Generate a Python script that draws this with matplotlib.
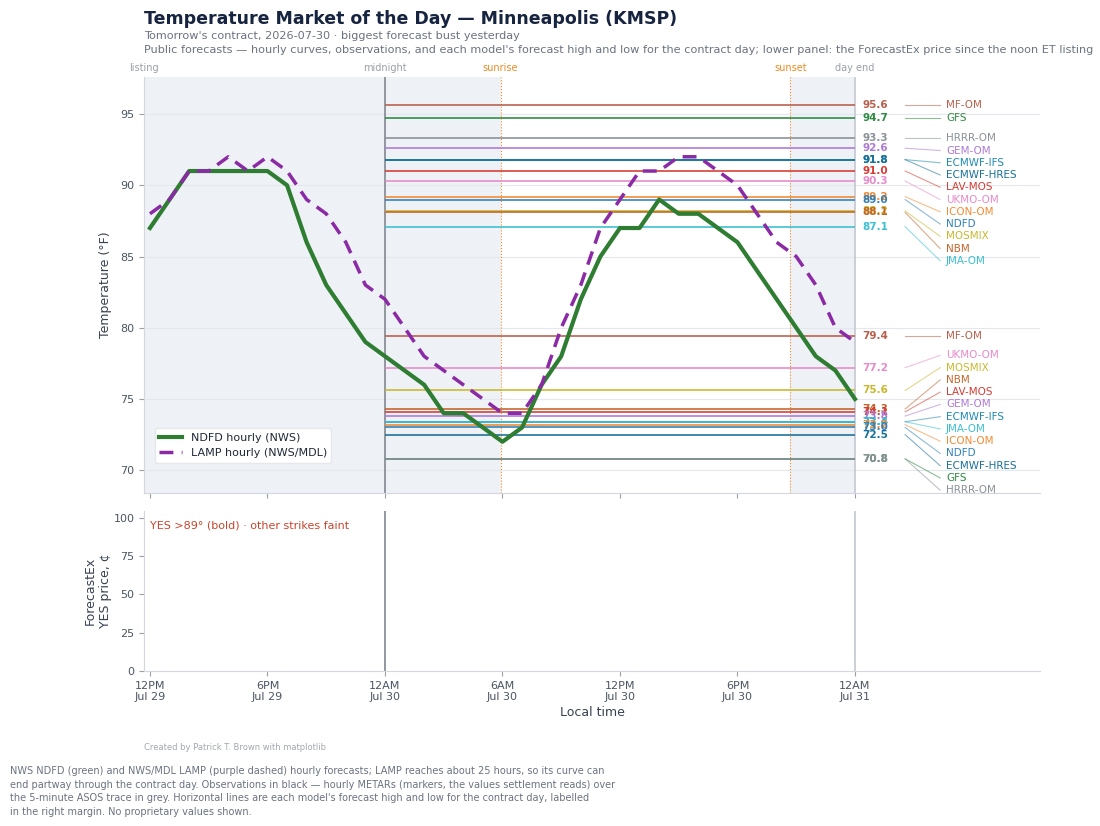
import numpy as np
import matplotlib.pyplot as plt
import matplotlib.transforms as mtransforms

# ---------- data (x = hours since 12PM Jul 29, local time) ----------
hours = np.arange(0, 37)
ndfd_hourly = [87, 89, 91, 91, 91, 91, 91, 90, 86, 83, 81, 79, 78, 77, 76, 74, 74, 73, 72,
               73, 76, 78, 82, 85, 87, 87, 89, 88, 88, 87, 86, 84, 82, 80, 78, 77, 75]
lamp_hourly = [88, 89, 91, 91, 92, 91, 92, 91, 89, 88, 86, 83, 82, 80, 78, 77, 76, 75, 74,
               74, 76, 80, 83, 87, 89, 91, 91, 92, 92, 91, 90, 88, 86, 85, 83, 80, 79]

models = ["MF-OM", "GFS", "HRRR-OM", "GEM-OM", "ECMWF-IFS", "ECMWF-HRES", "LAV-MOS",
          "UKMO-OM", "ICON-OM", "NDFD", "MOSMIX", "NBM", "JMA-OM"]
model_highs = [95.6, 94.7, 93.3, 92.6, 91.8, 91.8, 91.0, 90.3, 89.2, 89.0, 88.2, 88.1, 87.1]
model_lows = [79.4, 70.8, 70.8, 73.8, 73.4, 72.5, 74.1, 77.2, 73.2, 73.0, 75.6, 74.3, 73.4]
model_colors = ["#b9604c", "#2f8a44", "#8b9099", "#ae7ad6", "#1f8ab2", "#1a7199", "#d63c34",
                "#e68bc9", "#f28a32", "#3182b8", "#c8b92e", "#c4662b", "#3bbfd2"]

tick_hours = [0, 6, 12, 18, 24, 30, 36]
tick_labels = ["12PM\nJul 29", "6PM\nJul 29", "12AM\nJul 30", "6AM\nJul 30",
               "12PM\nJul 30", "6PM\nJul 30", "12AM\nJul 31"]

day_start, day_end = 12, 36
sunrise, sunset = 17.9, 32.7
x_left, x_right = -0.3, 45.45

# ---------- styling ----------
NAVY = "#16243f"
GREY_TXT = "#6b7280"
TICK_TXT = "#4b5563"
SPINE = "#d4d7dd"
NIGHT = "#eef1f6"
SUN = "#f08a24"

fig = plt.figure(figsize=(11, 8.26), dpi=100)
ax = fig.add_axes([0.131, 0.4031, 0.8145, 0.5037])
axp = fig.add_axes([0.131, 0.1877, 0.8145, 0.1937])

for a in (ax, axp):
    a.set_xlim(x_left, x_right)
    for s in ("top", "right"):
        a.spines[s].set_visible(False)
    for s in ("left", "bottom"):
        a.spines[s].set_color(SPINE)
    a.tick_params(colors="#9aa0a8", labelcolor=TICK_TXT, labelsize=8)
    a.set_xticks(tick_hours)

# ---------- top panel ----------
ax.set_ylim(68.4, 97.6)
ax.set_yticks([70, 75, 80, 85, 90, 95])
ax.set_xticklabels([])
ax.grid(axis="y", color="#e4e7ec", lw=0.8)
ax.set_axisbelow(True)
ax.axvspan(x_left, sunrise, color=NIGHT, lw=0, zorder=0)
ax.axvspan(sunset, day_end, color=NIGHT, lw=0, zorder=0)
ax.axvline(day_start, color="#8a8f98", lw=1.3, zorder=1)
ax.axvline(day_end, color="#c9ccd3", lw=1.3, zorder=1)
ax.axvline(sunrise, color=SUN, lw=0.8, ls=":", zorder=1)
ax.axvline(sunset, color=SUN, lw=0.8, ls=":", zorder=1)

trans = mtransforms.blended_transform_factory(ax.transData, ax.transAxes)
for xv, txt, col in [(x_left, "listing", "#9aa0a8"), (day_start, "midnight", "#9aa0a8"),
                     (sunrise, "sunrise", SUN), (sunset, "sunset", SUN),
                     (day_end, "day end", "#9aa0a8")]:
    ax.text(xv, 1.01, txt, transform=trans, ha="center", va="bottom", fontsize=7, color=col)

for name, hi, lo, col in zip(models, model_highs, model_lows, model_colors):
    ax.hlines([hi, lo], day_start, day_end, color=col, lw=1.3, alpha=0.9, zorder=2)

ax.plot(hours, ndfd_hourly, color="#2e7d32", lw=3, zorder=4, label="NDFD hourly (NWS)")
ax.plot(hours, lamp_hourly, color="#8a2aa5", lw=2.5, ls=(0, (4, 2.4)), zorder=4,
        label="LAMP hourly (NWS/MDL)")

# right-margin labels: values at their own level, names spread apart
entries = [(h, n, c) for n, h, c in zip(models, model_highs, model_colors)]
entries += [(l, n, c) for n, l, c in zip(models, model_lows, model_colors)]
entries = sorted(entries, key=lambda e: -e[0])
gap = 0.86
lower = ax.get_ylim()[0] + 0.2
pos = []
for v, n, c in entries:
    pos.append(v if not pos else min(v, pos[-1] - gap))
if pos[-1] < lower:
    pos[-1] = lower
    for i in range(len(pos) - 2, -1, -1):
        pos[i] = max(pos[i], pos[i + 1] + gap)

for (v, n, c), p in zip(entries, pos):
    ax.text(36.36, v, f"{v:.1f}", color=c, fontsize=7.5, fontweight="bold",
            va="center", ha="left", zorder=5)
    ax.plot([38.56, 40.35], [v, p], color=c, lw=0.8, alpha=0.55, clip_on=False)
    ax.text(40.65, p, n, color=c, fontsize=7.5, va="center", ha="left")

ax.set_ylabel("Temperature (°F)", fontsize=9, color="#374151", labelpad=6)
leg = ax.legend(loc="lower left", bbox_to_anchor=(0.006, 0.06), fontsize=8, frameon=True,
                edgecolor="#e5e7eb", facecolor="white", framealpha=1)
for t in leg.get_texts():
    t.set_color("#1f2937")

# ---------- bottom panel: ForecastEx price ----------
axp.set_ylim(0, 104.5)
axp.set_yticks([0, 25, 50, 75, 100])
axp.set_xticklabels(tick_labels)
axp.axvline(day_start, color="#8a8f98", lw=1.3)
axp.axvline(day_end, color="#c9ccd3", lw=1.3)
axp.text(0.007, 0.91, "YES >89° (bold) · other strikes faint", transform=axp.transAxes,
         color="#c8452c", fontsize=8, va="center")
axp.set_ylabel("ForecastEx\nYES price, ¢", fontsize=9, color="#374151", labelpad=1)
axp.set_xlabel("Local time", fontsize=9, color="#374151", labelpad=3)

# ---------- titles and notes ----------
fig.text(0.131, 0.977, "Temperature Market of the Day — Minneapolis (KMSP)",
         fontsize=12.5, fontweight="bold", color=NAVY, va="center")
fig.text(0.131, 0.957, "Tomorrow's contract, 2026-07-30 · biggest forecast bust yesterday",
         fontsize=8.1, color=GREY_TXT, va="center")
fig.text(0.131, 0.940,
         "Public forecasts — hourly curves, observations, and each model's forecast high and low "
         "for the contract day; lower panel: the ForecastEx price since the noon ET listing",
         fontsize=8.1, color=GREY_TXT, va="center")
fig.text(0.131, 0.095, "Created by Patrick T. Brown with matplotlib", fontsize=6,
         color="#a3a8b0", va="center")
fig.text(0.009, 0.042,
         "NWS NDFD (green) and NWS/MDL LAMP (purple dashed) hourly forecasts; LAMP reaches about "
         "25 hours, so its curve can\n"
         "end partway through the contract day. Observations in black — hourly METARs (markers, "
         "the values settlement reads) over\n"
         "the 5-minute ASOS trace in grey. Horizontal lines are each model's forecast high and low "
         "for the contract day, labelled\n"
         "in the right margin. No proprietary values shown.",
         fontsize=7, color=GREY_TXT, va="center", linespacing=1.45)

fig.savefig("out.png", dpi=100)
